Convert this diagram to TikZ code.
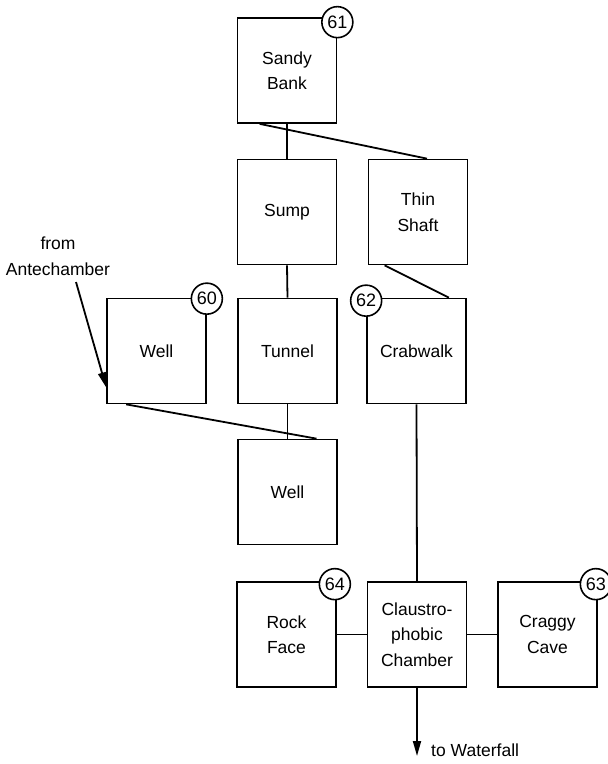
\documentclass[tikz,border=0pt]{standalone}
\usepackage{fontspec}
\setmainfont{Liberation Sans}
\usetikzlibrary{calc,arrows.meta}
\begin{document}
\begin{tikzpicture}[x=1pt,y=-1pt,
  room/.style={draw,line width=1.7pt,minimum width=99pt,minimum height=105pt,align=center,font=\fontsize{17.5}{25.5}\selectfont,inner sep=0pt},
  num/.style={draw,fill=white,circle,line width=1.6pt,minimum size=31pt,inner sep=0pt,font=\fontsize{18}{20}\selectfont},
  link/.style={line width=1.8pt},
  lbl/.style={font=\fontsize{17.5}{25.5}\selectfont,align=center,inner sep=0pt},
  arr/.style={line width=1.8pt,-{Triangle[length=15pt,width=8pt]}}]
\useasboundingbox (0,0) rectangle (608,764);
% boxes
\node[room] (sb) at (287,70.5) {Sandy\\Bank};
\node[room] (sump) at (287,212) {Sump};
\node[room] (ts) at (418,212) {Thin\\Shaft};
\node[room] (w60) at (156.5,351) {Well};
\node[room] (tun) at (287.5,351) {Tunnel};
\node[room] (cw) at (416.5,351) {Crabwalk};
\node[room] (w2) at (287.5,492) {Well};
\node[room] (rf) at (286.5,634.5) {Rock\\Face};
\node[room] (cc) at (417,634.5) {Claustro-\\phobic\\Chamber};
\node[room] (cg) at (547.5,634.5) {Craggy\\Cave};
% connectors
\draw[link] (sb.south) -- (sump.north);
\draw[link] ($(sb.south west)+(23,0)$) -- ($(ts.north)+(9,0)$);
\draw[link] (sump.south) -- (tun.north);
\draw[link] ($(ts.south west)+(17,0)$) -- ($(cw.north east)+(-18,0)$);
\draw[link] (tun.south) -- (w2.north);
\draw[link] ($(w60.south west)+(20,0)$) -- ($(w2.north)+(29,0)$);
\draw[link] (cw.south) -- (cc.north);
\draw[link] (rf.east) -- (cc.west);
\draw[link] (cc.east) -- (cg.west);
% external
\node[lbl] (ante) at (58,256) {from\\Antechamber};
\coordinate (antestart) at (76,282);
\draw[arr] (antestart) -- ($(w60.south west)+(0,-17)$);
\coordinate (wfend) at (417,756);
\draw[arr] (cc.south) -- (wfend);
\node[lbl,anchor=west] (wf) at (431,750) {to Waterfall};
% numbered circles
\node[num] (n61) at (sb.north east) [yshift=-5pt] {61};
\node[num] (n60) at (w60.north east) [yshift=-1pt] {60};
\node[num] (n62) at (cw.north west) [yshift=-3pt] {62};
\node[num] (n64) at (rf.north east) [xshift=-2pt,yshift=-3pt] {64};
\node[num] (n63) at (cg.north east) [xshift=-2pt,yshift=-3pt] {63};
\end{tikzpicture}
\end{document}
